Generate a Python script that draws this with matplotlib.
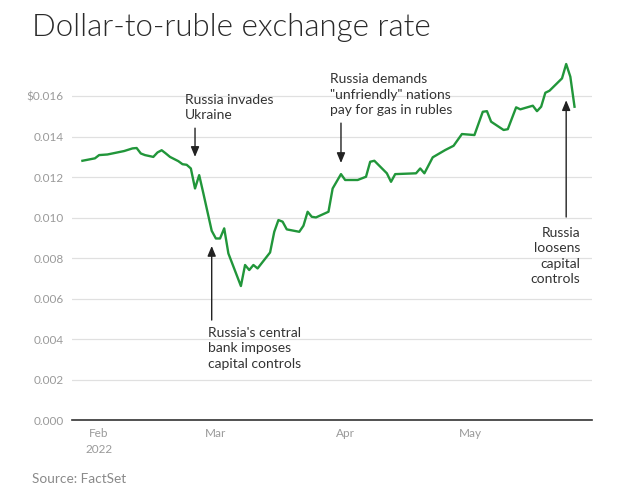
import matplotlib
matplotlib.use("Agg")
import matplotlib.pyplot as plt
import numpy as np
import pandas as pd

plt.rcParams['font.family'] = ['Lato', 'DejaVu Sans']

# dollars per ruble
dates = ["2022-01-28", "2022-01-31", "2022-02-01", "2022-02-03", "2022-02-07", "2022-02-09",
         "2022-02-10", "2022-02-11", "2022-02-12", "2022-02-14", "2022-02-15", "2022-02-16",
         "2022-02-17", "2022-02-18", "2022-02-20", "2022-02-21", "2022-02-22", "2022-02-23",
         "2022-02-24", "2022-02-25", "2022-02-26", "2022-02-28", "2022-03-01", "2022-03-02",
         "2022-03-03", "2022-03-04", "2022-03-07", "2022-03-08", "2022-03-09", "2022-03-10",
         "2022-03-11", "2022-03-14", "2022-03-15", "2022-03-16", "2022-03-17", "2022-03-18",
         "2022-03-21", "2022-03-22", "2022-03-23", "2022-03-24", "2022-03-25", "2022-03-28",
         "2022-03-29", "2022-03-31", "2022-04-01", "2022-04-04", "2022-04-06", "2022-04-07",
         "2022-04-08", "2022-04-11", "2022-04-12", "2022-04-13", "2022-04-18", "2022-04-19",
         "2022-04-20", "2022-04-22", "2022-04-25", "2022-04-27", "2022-04-29", "2022-05-02",
         "2022-05-04", "2022-05-05", "2022-05-06", "2022-05-09", "2022-05-10", "2022-05-12",
         "2022-05-13", "2022-05-16", "2022-05-17", "2022-05-18", "2022-05-19", "2022-05-20",
         "2022-05-23", "2022-05-24", "2022-05-25", "2022-05-26"]
rate = [0.01281, 0.01293, 0.01309, 0.01312, 0.01329, 0.01342,
        0.01344, 0.01317, 0.01309, 0.01300, 0.01322, 0.01333,
        0.01317, 0.01300, 0.01279, 0.01264, 0.01261, 0.01243,
        0.01144, 0.01210, 0.01120, 0.00935, 0.00897, 0.00897,
        0.00947, 0.00823, 0.00662, 0.00766, 0.00741, 0.00766,
        0.00749, 0.00828, 0.00930, 0.00988, 0.00980, 0.00942,
        0.00930, 0.00960, 0.01029, 0.01004, 0.01001, 0.01029,
        0.01144, 0.01215, 0.01186, 0.01186, 0.01202, 0.01276,
        0.01281, 0.01219, 0.01177, 0.01215, 0.01219, 0.01243,
        0.01219, 0.01298, 0.01334, 0.01355, 0.01413, 0.01408,
        0.01523, 0.01526, 0.01474, 0.01433, 0.01437, 0.01545,
        0.01535, 0.01553, 0.01526, 0.01548, 0.01617, 0.01627,
        0.01688, 0.01759, 0.01696, 0.01548]

y_ticks = [0.0, 0.002, 0.004, 0.006, 0.008, 0.010, 0.012, 0.014, 0.016]
y_labels = ["0.000", "0.002", "0.004", "0.006", "0.008", "0.010", "0.012", "0.014", "$0.016"]
x_ticks = ["2022-02-01", "2022-03-01", "2022-04-01", "2022-05-01"]
x_labels = ["Feb\n2022", "Mar", "Apr", "May"]

# events: (arrow date, arrow tail, arrow head, text)
events = [
    ("2022-02-24", 0.01442, 0.0130, "Russia invades\nUkraine"),
    ("2022-02-28", 0.00494, 0.0086, "Russia's central\nbank imposes\ncapital controls"),
    ("2022-03-31", 0.01467, 0.0127, "Russia demands\n\"unfriendly\" nations\npay for gas in rubles"),
    ("2022-05-24", 0.01003, 0.0158, "Russia\nloosens\ncapital\ncontrols"),
]
text_align = ["left", "left", "left", "right"]
text_dx = [-7.5, -3, -8, 10]
text_dy = [5, -5, 5, -7]

d = pd.to_datetime(dates)

fig = plt.figure(figsize=(6.36, 4.93), dpi=100)
ax = fig.add_axes([0.1132, 0.148, 0.818, 0.739])

ax.plot(d, rate, color="#21963a", linewidth=1.7, solid_joinstyle="round", zorder=3)

ax.set_ylim(0, 0.018)
ax.set_xlim(pd.Timestamp("2022-01-25 12:00"), pd.Timestamp("2022-05-30 06:00"))
ax.set_yticks(y_ticks)
ax.set_yticklabels(y_labels)
ax.set_xticks(pd.to_datetime(x_ticks))
ax.set_xticklabels(x_labels, linespacing=1.5)
ax.tick_params(axis="both", length=0, colors="#9a9a9a", labelsize=8.5)
ax.tick_params(axis="y", pad=6)
ax.tick_params(axis="x", pad=6)
ax.grid(axis="y", color="#e0e0e0", linewidth=0.9)
ax.set_axisbelow(True)
for s in ["top", "right", "left"]:
    ax.spines[s].set_visible(False)
ax.spines["bottom"].set_color("#333333")
ax.spines["bottom"].set_linewidth(1.2)

for (dt, tail, head, txt), ha, dx, dy in zip(events, text_align, text_dx, text_dy):
    x = pd.Timestamp(dt)
    ax.annotate("", xy=(x, head), xytext=(x, tail),
                arrowprops=dict(arrowstyle="-|>,head_length=0.6,head_width=0.25",
                                color="#222222", lw=1.0, shrinkA=0, shrinkB=0))
    va = "bottom" if dy > 0 else "top"
    ax.annotate(txt, xy=(x, tail), xytext=(dx, dy), textcoords="offset points",
                ha=ha, va=va, fontsize=10, color="#333333", linespacing=1.35,
                multialignment=ha)

fig.text(0.05, 0.945, "Dollar-to-ruble exchange rate", fontsize=22.5, color="#2a2a2a",
         fontweight=300, va="center", ha="left")
fig.text(0.05, 0.017, "Source: FactSet", fontsize=9.8, color="#8a8a8a", ha="left", va="bottom")

fig.savefig("out.png", dpi=100)
